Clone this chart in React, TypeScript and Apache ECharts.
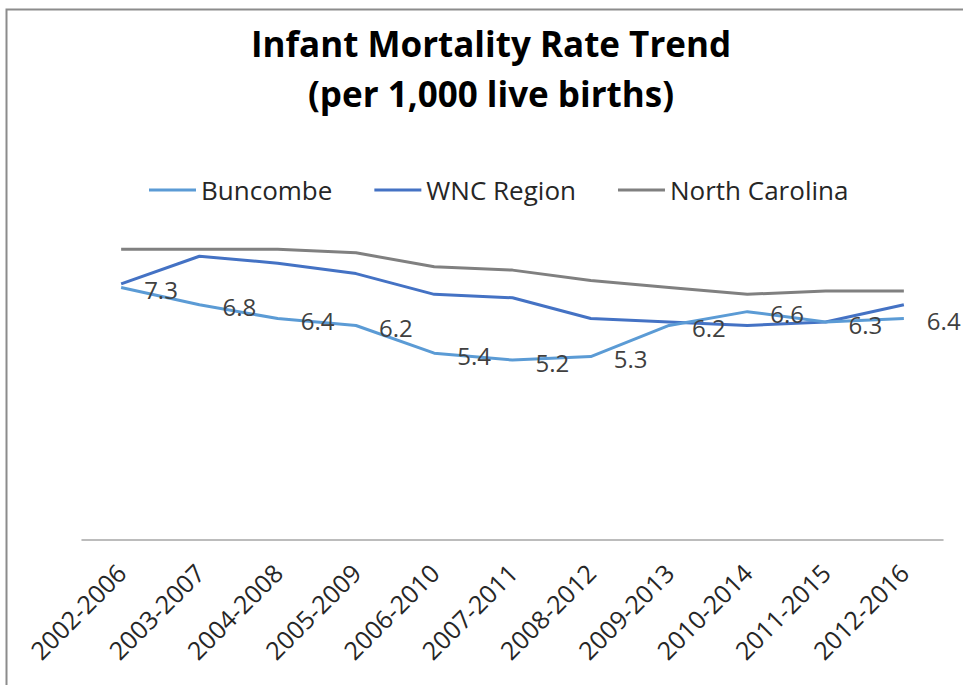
import React, { useEffect, useRef } from "react";
import * as echarts from "echarts";

const categories = [
  "2002-2006", "2003-2007", "2004-2008", "2005-2009", "2006-2010", "2007-2011",
  "2008-2012", "2009-2013", "2010-2014", "2011-2015", "2012-2016",
];
const buncombe = [7.3, 6.8, 6.4, 6.2, 5.4, 5.2, 5.3, 6.2, 6.6, 6.3, 6.4];
const wncRegion = [7.4, 8.2, 8.0, 7.7, 7.1, 7.0, 6.4, 6.3, 6.2, 6.3, 6.8];
const northCarolina = [8.4, 8.4, 8.4, 8.3, 7.9, 7.8, 7.5, 7.3, 7.1, 7.2, 7.2];

const FONT = "'Open Sans', 'Noto Sans', sans-serif";

export default function App() {
  const ref = useRef<HTMLDivElement>(null);
  useEffect(() => {
    if (!ref.current) return;
    const chart = echarts.init(ref.current, undefined, { renderer: "svg" });
    chart.setOption({
      animation: false,
      backgroundColor: "#ffffff",
      title: {
        text: "Infant Mortality Rate Trend\n(per 1,000 live births)",
        left: 486,
        textAlign: "center",
        top: 13,
        textStyle: {
          fontFamily: FONT,
          fontSize: 35,
          fontWeight: "bold",
          lineHeight: 50,
          color: "#000000",
        },
      },
      legend: {
        left: 144,
        top: 172,
        itemWidth: 47,
        itemHeight: 3,
        itemGap: 42,
        icon: "rect",
        textStyle: { fontFamily: FONT, fontSize: 26, color: "#262626" },
        data: ["Buncombe", "WNC Region", "North Carolina"],
      },
      grid: { left: 82, right: 20, top: 194, bottom: 145, containLabel: false },
      xAxis: {
        type: "category",
        data: categories,
        boundaryGap: true,
        axisTick: { show: false },
        axisLine: { lineStyle: { color: "#a6a6a6", width: 1.5 } },
        axisLabel: {
          rotate: 45,
          interval: 0,
          margin: 28,
          fontFamily: FONT,
          fontSize: 25,
          color: "#262626",
        },
      },
      yAxis: {
        type: "value",
        min: 0,
        max: 10,
        show: false,
        splitLine: { show: false },
      },
      graphic: [
        {
          type: "polyline",
          shape: { points: [[6.5, 685], [6.5, 9.5], [963, 9.5]] },
          style: { stroke: "#8c8c8c", lineWidth: 2, fill: "none" },
          silent: true,
        },
      ],
      series: [
        {
          name: "Buncombe",
          type: "line",
          data: buncombe,
          symbol: "circle",
          symbolSize: 0,
          showSymbol: true,
          color: "#5b9bd5",
          lineStyle: { width: 3, color: "#5b9bd5" },
          z: 3,
          label: {
            show: true,
            position: "right",
            distance: 23,
            offset: [0, 2],
            fontFamily: FONT,
            fontSize: 24,
            color: "#404040",
          },
        },
        {
          name: "WNC Region",
          type: "line",
          data: wncRegion,
          symbol: "none",
          color: "#4472c4",
          lineStyle: { width: 3, color: "#4472c4" },
          z: 2,
        },
        {
          name: "North Carolina",
          type: "line",
          data: northCarolina,
          symbol: "none",
          color: "#808080",
          lineStyle: { width: 3, color: "#808080" },
          z: 1,
        },
      ],
    });
    return () => chart.dispose();
  }, []);
  return (
    <div
      ref={ref}
      style={{ position: "fixed", left: 0, top: 0, width: 963, height: 685 }}
    />
  );
}
